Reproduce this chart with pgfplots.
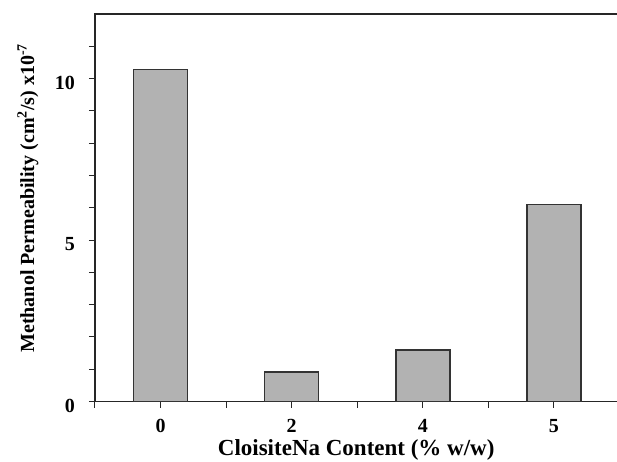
\documentclass[border=0pt]{standalone}
\usepackage{pgfplots}
\pgfplotsset{compat=1.18}
\usepackage{fontspec}
\setmainfont{Liberation Serif}
\begin{document}
\begin{tikzpicture}
\clip (-95pt,-59.5pt) rectangle (522pt,401.5pt);
\begin{axis}[
  at={(0,0)}, anchor=south west,
  scale only axis, width=524.5pt, height=387.5pt,
  xmin=-0.5, xmax=3.5, ymin=0, ymax=12,
  ybar, bar width=54pt,
  xtick={0,1,2,3}, xticklabels={0,2,4,5},
  minor xtick={-0.5,0.5,1.5,2.5},
  ytick={0,5,10}, minor ytick={1,2,3,4,6,7,8,9,11},
  tick align=outside, xtick pos=bottom, ytick pos=left,
  major tick length=6pt, minor tick length=6pt,
  tick style={black!85, line width=1pt},
  axis line style={line width=1.3pt, black!85},
  /pgf/number format/assume math mode=true,
  ticklabel style={font=\fontsize{20}{20}\selectfont\bfseries},
  yticklabel style={anchor=east, inner sep=0pt, xshift=-14pt, yshift=-4pt},
  xticklabel style={anchor=base, inner sep=0pt, yshift=-25pt},
  xlabel={CloisiteNa Content (\% w/w)},
  ylabel={Methanol Permeability (cm\textsuperscript{2}/s) x10\textsuperscript{-7}},
  xlabel style={font=\fontsize{23}{23}\selectfont\bfseries, at={(axis description cs:0.498,-0.1406)}, anchor=base, inner sep=0pt},
  ylabel style={font=\fontsize{20}{20}\selectfont\bfseries, at={(axis description cs:-0.128,0.525)}, anchor=center, inner sep=0pt},
]
\addplot[fill=black!30, draw=black!80, line width=1.4pt] coordinates {(0,10.29) (1,0.91) (2,1.59) (3,6.11)};
\end{axis}
\end{tikzpicture}
\end{document}
